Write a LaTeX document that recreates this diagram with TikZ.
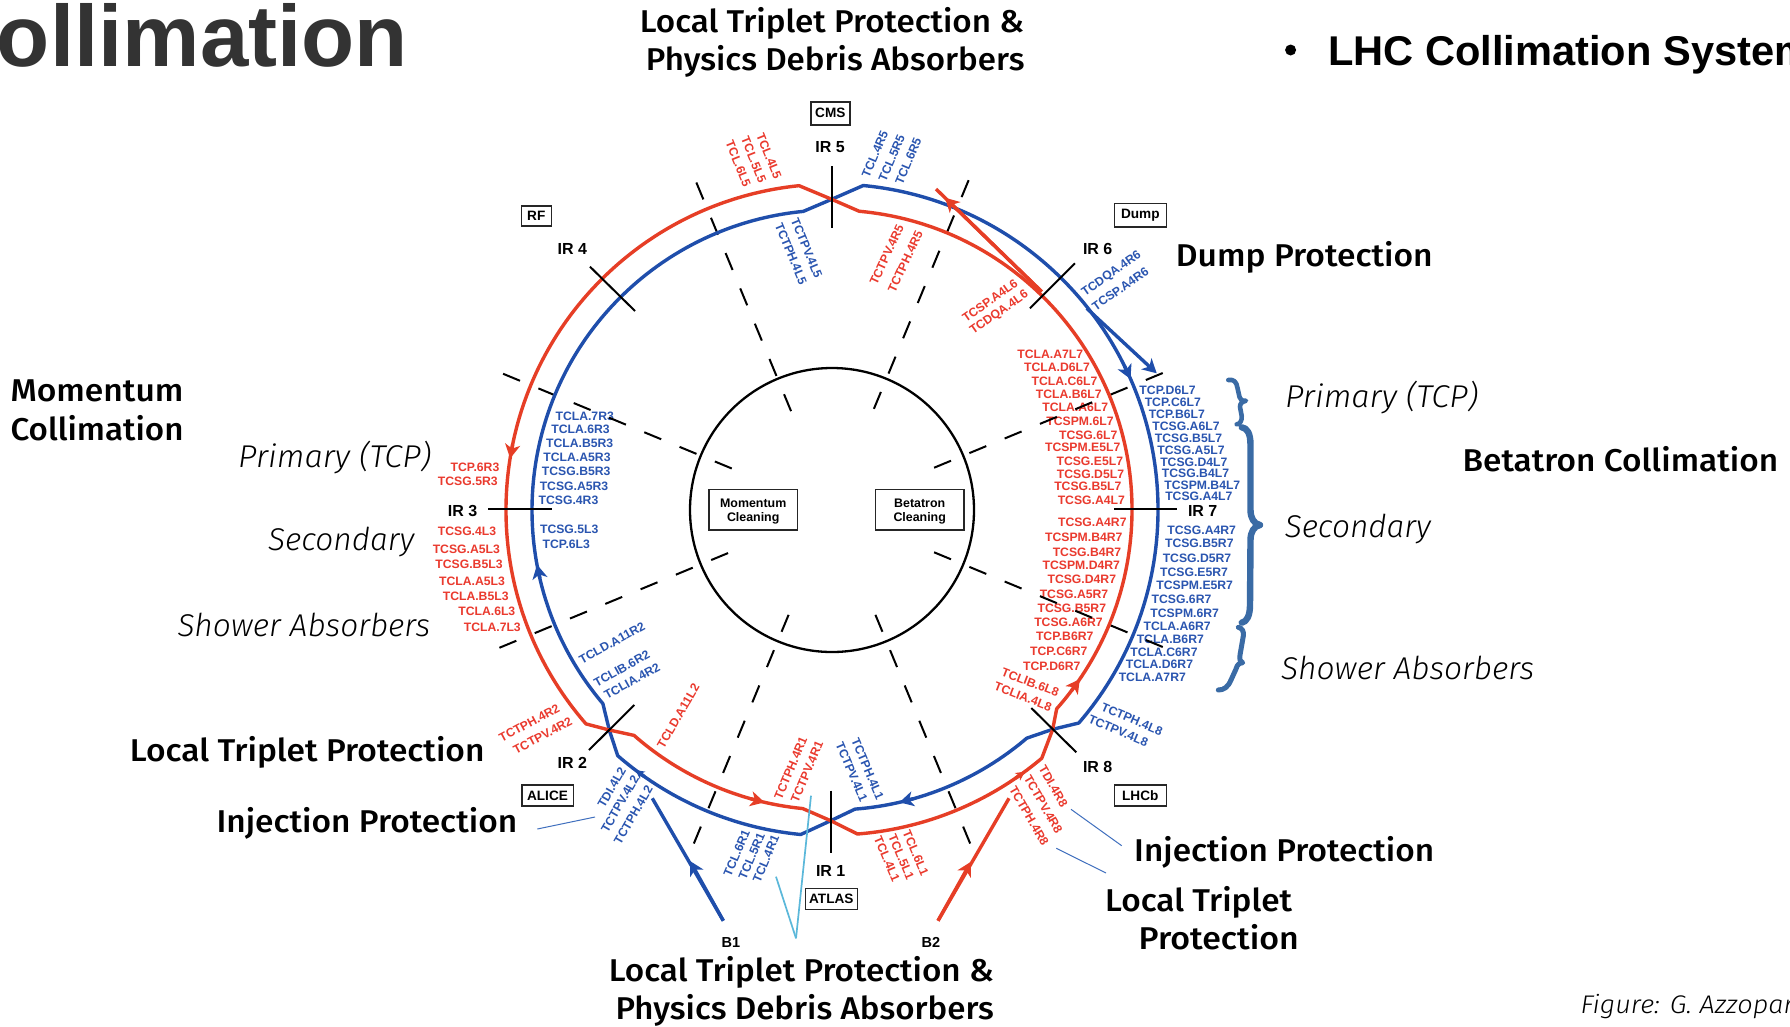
\documentclass[tikz,border=0pt]{standalone}
\usepackage{fontspec}
\usepackage{graphicx}
\usetikzlibrary{arrows.meta}
\setmainfont{Liberation Sans}
\newfontfamily\ubu{Fira Sans Medium}
\newfontfamily\ubuli{Fira Sans Light Italic}
\definecolor{beamred}{HTML}{E63E26}
\definecolor{beamblue}{HTML}{1F4EAB}
\definecolor{labred}{HTML}{EA3A2E}
\definecolor{labblue}{HTML}{2A55B0}
\definecolor{bracec}{HTML}{3A6BA5}
\definecolor{leadc}{HTML}{3F6FBE}
\definecolor{skyc}{HTML}{5BB8DA}
\definecolor{titlec}{HTML}{333333}
\tikzset{
  redlab/.style={inner sep=0pt,text=labred,font=\fontsize{12.2}{14}\selectfont\bfseries},
  bluelab/.style={inner sep=0pt,text=labblue,font=\fontsize{12.2}{14}\selectfont\bfseries},
  irlab/.style={inner sep=0pt,font=\fontsize{16}{18}\selectfont\bfseries},
  boxnode/.style={draw=black!85,line width=1.6pt,inner sep=0pt,align=center,font=\fontsize{13.6}{14.5}\selectfont\bfseries},
  cleanbox/.style={boxnode,minimum width=88.3pt,minimum height=40.7pt,font=\fontsize{12.4}{14.5}\selectfont\bfseries},
  annot/.style={inner sep=0pt,anchor=base west},
  redbeam/.style={draw=beamred,line width=3.4pt,line join=round},
  bluebeam/.style={draw=beamblue,line width=3.4pt,line join=round},
  rtip/.style={-{Stealth[length=14pt,width=15pt,inset=4pt]}},
  rtipsmall/.style={-{Stealth[length=9pt,width=9pt,inset=2.5pt]}},
  tickline/.style={draw=black,line width=2pt},
  radial/.style={draw=black,line width=2pt,dash pattern=on 18.3pt off 19.9pt},
  bracepath/.style={draw=bracec,line cap=round,line join=round},
  leader/.style={draw=leadc,line width=1pt},
  skyline/.style={draw=skyc,line width=1.7pt},
}
\newcommand\rlab[5][0]{\node[redlab,rotate=#1] (r#2) at (#3,-#4) {#5};}
\newcommand\blab[5][0]{\node[bluelab,rotate=#1] (b#2) at (#3,-#4) {#5};}
\newcommand\med[5]{\node[annot,xshift=-2pt,yshift=-1pt] (#1) at (#2,-#3) {\resizebox{\dimexpr #4pt+3pt\relax}{\height}{\ubu\fontsize{31.5}{36}\selectfont #5}};}
\newcommand\ita[5]{\node[annot,xshift=-2pt,yshift=-1pt] (#1) at (#2,-#3) {\resizebox{\dimexpr #4pt+2pt\relax}{\height}{\ubuli\fontsize{31.5}{36}\selectfont #5}};}
\begin{document}
\begin{tikzpicture}[x=1pt,y=1pt]
\useasboundingbox (0,0) rectangle (1790,-1026);
\fill[white] (0,0) rectangle (1790,-1026);
\clip (0,0) rectangle (1790,-1026);

% slide texts
\node[inner sep=0pt,anchor=base east,text=titlec,font=\fontsize{87}{90}\selectfont\bfseries] (title) at (408,-66.7) {ollimation};
\node[inner sep=0pt,anchor=base west,font=\fontsize{41.6}{44}\selectfont\bfseries] (bullet) at (1328,-65) {LHC Collimation System};
\node[circle,fill=black,inner sep=0pt,minimum size=11pt] (bulletdot) at (1290.6,-50) {};
\med{topa}{641.7}{31}{381.3}{Local Triplet Protection \&}
\med{topb}{647.7}{69.3}{375.6}{Physics Debris Absorbers}
\med{bota}{610.7}{980}{382}{Local Triplet Protection \&}
\med{botb}{617.3}{1018.3}{375.4}{Physics Debris Absorbers}
\med{dump}{1177.7}{265.7}{253.8}{Dump Protection}
\med{beta}{1464.5}{470.7}{312.4}{Betatron Collimation}
\med{mom}{12.3}{400}{170}{Momentum}
\med{coll}{12.3}{439}{170}{Collimation}
\med{ltl}{131.7}{760}{351.6}{Local Triplet Protection}
\med{injl}{218.3}{831.7}{297.7}{Injection Protection}
\med{injr}{1136}{860.7}{296.9}{Injection Protection}
\med{ltra}{1107}{910.7}{183.9}{Local Triplet}
\med{ltrb}{1140.4}{948.3}{157.2}{Protection}
\ita{pril}{240}{466.7}{191}{Primary (TCP)}
\ita{secl}{270}{549.3}{144}{Secondary}
\ita{shol}{179.3}{635.7}{250.7}{Shower Absorbers}
\ita{prir}{1286.8}{406.7}{191.2}{Primary (TCP)}
\ita{secr}{1286.6}{536}{144}{Secondary}
\ita{shor}{1283}{678}{251}{Shower Absorbers}
\node[annot] (fig) at (1580.4,-1013) {\resizebox{213pt}{\height}{\ubuli\fontsize{25.5}{28}\selectfont Figure: G. Azzopar}};

% collimator labels
\rlab[-68]{TCL4L5}{769}{156.3}{TCL.4L5}
\rlab[-68]{TCL5L5}{753.7}{159.7}{TCL.5L5}
\rlab[-68]{TCL6L5}{738.3}{163.7}{TCL.6L5}
\blab[67]{TCL4R5}{875}{154.3}{TCL.4R5}
\blab[67]{TCL5R5}{891.7}{158}{TCL.5R5}
\blab[67]{TCL6R5}{908.3}{161.3}{TCL.6R5}
\blab[-67.5]{TCTPV4L5}{806.7}{248.3}{TCTPV.4L5}
\blab[-67.5]{TCTPH4L5}{791}{253.7}{TCTPH.4L5}
\rlab[65]{TCTPV4R5}{886.7}{254.7}{TCTPV.4R5}
\rlab[65]{TCTPH4R5}{905.3}{261.7}{TCTPH.4R5}
\rlab[35]{TCSPA4L6}{990}{300.7}{TCSP.A4L6}
\rlab[35]{TCDQA4L6}{999.3}{313}{TCDQA.4L6}
\blab[35]{TCDQA4R6}{1111.7}{274}{TCDQA.4R6}
\blab[35]{TCSPA4R6}{1120.3}{289}{TCSP.A4R6}
\blab{TCLA7R3}{584.7}{416}{TCLA.7R3}
\blab{TCLA6R3}{580.5}{429.3}{TCLA.6R3}
\blab{TCLAB5R3}{579.7}{443.3}{TCLA.B5R3}
\blab{TCLAA5R3}{577}{457.3}{TCLA.A5R3}
\blab{TCSGB5R3}{576.2}{471.7}{TCSG.B5R3}
\blab{TCSGA5R3}{574}{486.7}{TCSG.A5R3}
\blab{TCSG4R3}{568.5}{500.7}{TCSG.4R3}
\blab{TCSG5L3}{569.2}{529.7}{TCSG.5L3}
\blab{TCP6L3}{566.3}{544.7}{TCP.6L3}
\rlab{TCP6R3}{475}{467.3}{TCP.6R3}
\rlab{TCSG5R3}{467.8}{481.7}{TCSG.5R3}
\rlab{TCSG4L3}{467}{531.3}{TCSG.4L3}
\rlab{TCSGA5L3}{466.3}{549}{TCSG.A5L3}
\rlab{TCSGB5L3}{469}{564.7}{TCSG.B5L3}
\rlab{TCLAA5L3}{472}{581}{TCLA.A5L3}
\rlab{TCLAB5L3}{475.7}{596.3}{TCLA.B5L3}
\rlab{TCLA6L3}{486.8}{611.7}{TCLA.6L3}
\rlab{TCLA7L3}{492.3}{627}{TCLA.7L3}
\rlab{TCLAA7L7}{1050.3}{354.3}{TCLA.A7L7}
\rlab{TCLAD6L7}{1057}{367.3}{TCLA.D6L7}
\rlab{TCLAC6L7}{1064.5}{381}{TCLA.C6L7}
\rlab{TCLAB6L7}{1068.7}{394}{TCLA.B6L7}
\rlab{TCLAA6L7}{1075.2}{407.7}{TCLA.A6L7}
\rlab{TCSPM6L7}{1080}{421}{TCSPM.6L7}
\rlab{TCSG6L7}{1088.2}{435}{TCSG.6L7}
\rlab{TCSPME5L7}{1082.7}{447.7}{TCSPM.E5L7}
\rlab{TCSGE5L7}{1089.8}{461}{TCSG.E5L7}
\rlab{TCSGD5L7}{1090.5}{474.3}{TCSG.D5L7}
\rlab{TCSGB5L7}{1087.8}{486.7}{TCSG.B5L7}
\rlab{TCSGA4L7}{1091.3}{500.3}{TCSG.A4L7}
\rlab{TCSGA4R7}{1092.3}{522.7}{TCSG.A4R7}
\rlab{TCSPMB4R7}{1083.8}{537.3}{TCSPM.B4R7}
\rlab{TCSGB4R7}{1087}{552}{TCSG.B4R7}
\rlab{TCSPMD4R7}{1081.3}{565}{TCSPM.D4R7}
\rlab{TCSGD4R7}{1081.8}{579.3}{TCSG.D4R7}
\rlab{TCSGA5R7}{1074}{594}{TCSG.A5R7}
\rlab{TCSGB5R7}{1071.8}{608.3}{TCSG.B5R7}
\rlab{TCSGA6R7}{1068.5}{622.7}{TCSG.A6R7}
\rlab{TCPB6R7}{1064.7}{636.7}{TCP.B6R7}
\rlab{TCPC6R7}{1058.8}{651.7}{TCP.C6R7}
\rlab{TCPD6R7}{1051.8}{666.3}{TCP.D6R7}
\blab{TCPD6L7}{1167.5}{390}{TCP.D6L7}
\blab{TCPC6L7}{1172.8}{402}{TCP.C6L7}
\blab{TCPB6L7}{1176.8}{414.7}{TCP.B6L7}
\blab{TCSGA6L7}{1186}{426.7}{TCSG.A6L7}
\blab{TCSGB5L7}{1188.5}{438.3}{TCSG.B5L7}
\blab{TCSGA5L7}{1191}{450.3}{TCSG.A5L7}
\blab{TCSGD4L7}{1193.8}{462}{TCSG.D4L7}
\blab{TCSGB4L7}{1195.5}{473.3}{TCSG.B4L7}
\blab{TCSPMB4L7}{1202.3}{485.3}{TCSPM.B4L7}
\blab{TCSGA4L7}{1198.8}{496.7}{TCSG.A4L7}
\blab{TCSGA4R7}{1201.7}{530.3}{TCSG.A4R7}
\blab{TCSGB5R7}{1199.3}{543.7}{TCSG.B5R7}
\blab{TCSGD5R7}{1197}{558.3}{TCSG.D5R7}
\blab{TCSGE5R7}{1194}{572}{TCSG.E5R7}
\blab{TCSPME5R7}{1194.7}{585.3}{TCSPM.E5R7}
\blab{TCSG6R7}{1181.5}{599.3}{TCSG.6R7}
\blab{TCSPM6R7}{1184.7}{613}{TCSPM.6R7}
\blab{TCLAA6R7}{1177.2}{626.7}{TCLA.A6R7}
\blab{TCLAB6R7}{1170.3}{639.3}{TCLA.B6R7}
\blab{TCLAC6R7}{1164}{652}{TCLA.C6R7}
\blab{TCLAD6R7}{1159.5}{664}{TCLA.D6R7}
\blab{TCLAA7R7}{1152.3}{677.7}{TCLA.A7R7}
\rlab[-21]{TCLIB6L8}{1030.3}{682.3}{TCLIB.6L8}
\rlab[-21]{TCLIA4L8}{1023}{696.7}{TCLIA.4L8}
\blab[-23]{TCTPH4L8}{1132}{719.3}{TCTPH.4L8}
\blab[-23]{TCTPV4L8}{1118.3}{730.7}{TCTPV.4L8}
\rlab[-60]{TDI4R8}{1053.3}{786.3}{TDI.4R8}
\rlab[-60]{TCTPV4R8}{1043.3}{804.3}{TCTPV.4R8}
\rlab[-60]{TCTPH4R8}{1029}{815.7}{TCTPH.4R8}
\blab[29]{TCLDA11R2}{612}{643}{TCLD.A11R2}
\blab[29]{TCLIB6R2}{621.7}{668.7}{TCLIB.6R2}
\blab[29]{TCLIA4R2}{632}{681}{TCLIA.4R2}
\rlab[60]{TCLDA11L2}{678.3}{716}{TCLD.A11L2}
\rlab[28]{TCTPH4R2}{529.3}{723}{TCTPH.4R2}
\rlab[28]{TCTPV4R2}{542.7}{735.7}{TCTPV.4R2}
\blab[60]{TDI4L2}{611.7}{787.3}{TDI.4L2}
\blab[60]{TCTPV4L2}{620}{804}{TCTPV.4L2}
\blab[60]{TCTPH4L2}{633.3}{815}{TCTPH.4L2}
\rlab[67]{TCTPH4R1}{790.7}{768.3}{TCTPH.4R1}
\rlab[67]{TCTPV4R1}{807}{771.7}{TCTPV.4R1}
\blab[-67]{TCTPH4L1}{867.7}{769}{TCTPH.4L1}
\blab[-67]{TCTPV4L1}{851.7}{771.7}{TCTPV.4L1}
\blab[67]{TCL6R1}{736.7}{853.3}{TCL.6R1}
\blab[67]{TCL5R1}{751.7}{856}{TCL.5R1}
\blab[67]{TCL4R1}{766}{858.7}{TCL.4R1}
\rlab[-67]{TCL6L1}{915.7}{853}{TCL.6L1}
\rlab[-67]{TCL5L1}{901.3}{856.7}{TCL.5L1}
\rlab[-67]{TCL4L1}{887}{858.7}{TCL.4L1}

% IR labels and boxes
\node[irlab] (ir1) at (830.7,-870.7) {IR 1};
\node[irlab] (ir2) at (572.3,-763.3) {IR 2};
\node[irlab] (ir3) at (462.5,-510.7) {IR 3};
\node[irlab] (ir4) at (572.3,-248.7) {IR 4};
\node[irlab] (ir5) at (830,-147.3) {IR 5};
\node[irlab] (ir6) at (1097.7,-248.7) {IR 6};
\node[irlab] (ir7) at (1202.7,-511) {IR 7};
\node[irlab] (ir8) at (1097.7,-767.3) {IR 8};
\node[irlab,font=\fontsize{14.5}{16}\selectfont\bfseries] (b1) at (731,-942) {B1};
\node[irlab,font=\fontsize{14.5}{16}\selectfont\bfseries] (b2) at (931,-942) {B2};
\node[boxnode,minimum width=39pt,minimum height=23pt] (cms) at (830.3,-113.3) {CMS};
\node[boxnode,minimum width=30pt,minimum height=20pt] (rf) at (536.3,-216) {RF};
\node[boxnode,minimum width=52pt,minimum height=23.4pt] (dumpbox) at (1140.3,-215) {Dump};
\node[boxnode,minimum width=51.6pt,minimum height=21pt] (alice) at (547.5,-795.5) {ALICE};
\node[boxnode,minimum width=52pt,minimum height=21pt] (atlas) at (831.3,-898.8) {ATLAS};
\node[boxnode,minimum width=52pt,minimum height=21pt] (lhcb) at (1140.3,-795.5) {LHCb};
\node[cleanbox] (mombox) at (753.2,-509.7) {\rule{0pt}{12pt}Momentum\\Cleaning};
\node[cleanbox] (betbox) at (919.7,-509.7) {\rule{0pt}{12pt}Betatron\\Cleaning};

% named points
\coordinate (cen) at (832,-510);
\coordinate (cIR1) at (830.7,-820.7);
\coordinate (cIR2) at (609.3,-730);
\coordinate (cIR5) at (831.7,-199.3);
\coordinate (cIR8) at (1052.7,-729.3);

% radial dashed lines
\begin{scope}[shift={(cen)}]
\foreach \a/\r/\n in {112.5/354.5/a,67.5/357/b,157.5/356/c,22.5/358/d,202.5/360/e,-22.5/358/f,247.5/361/g,292.5/361/h}{
  \pgfmathsetmacro{\ri}{\r-247.5}
  \coordinate (ro\n) at (\a:\r);
  \coordinate (ri\n) at (\a:\ri);
  \draw[radial] (ro\n) -- (ri\n);
}
\end{scope}
\node[circle,draw=black,line width=2.3pt,minimum size=284pt,inner sep=0pt] (ringc) at (cen) {};

% beams
\begin{scope}[shift={(cen)}]
\draw[bluebeam] (84.5:326) arc[start angle=84.5,end angle=-40.8,radius=326pt] -- (cIR8) -- (-49.5:300) arc[start angle=-49.5,end angle=-85.6,radius=300pt] -- (cIR1) -- (264.5:326) arc[start angle=264.5,end angle=228.9,radius=326pt] -- (cIR2) -- (220.2:300) arc[start angle=220.2,end angle=95.5,radius=300pt] -- (cIR5) -- cycle;
\draw[redbeam] (84.8:300) arc[start angle=84.8,end angle=-41.5,radius=300pt] -- (cIR8) -- (-49.8:325) arc[start angle=-49.8,end angle=-85.5,radius=325pt] -- (cIR1) -- (264.4:300) arc[start angle=264.4,end angle=228.7,radius=300pt] -- (cIR2) -- (221:326) arc[start angle=221,end angle=95.8,radius=326pt] -- (cIR5) -- cycle;
% ring arrowheads
\draw[redbeam,rtip] (168.4:326) -- (170.9:326);
\draw[redbeam,rtip] (254.3:300) -- (257:300);
\draw[redbeam,rtip] (-37:300) -- (-34.3:300);
\draw[redbeam,rtipsmall] (-55.6:325) -- (-53.6:325);
\draw[bluebeam,rtip] (193.2:300) -- (190.5:300);
\draw[bluebeam,rtip] (-74.3:300) -- (-77:300);
\draw[bluebeam,rtip] (26.2:326) -- (23.7:326);
\draw[bluebeam,rtipsmall] (234.9:326) -- (232.9:326);
\end{scope}

% dump and injection lines
\coordinate (dbs) at (1086.7,-308.3);
\coordinate (dbe) at (1156.7,-373.3);
\coordinate (drs) at (1041.7,-291.7);
\coordinate (dre) at (936,-189);
\coordinate (drh) at (945,-197.7);
\coordinate (ib1s) at (723.3,-920.7);
\coordinate (ib1e) at (652.3,-798.3);
\coordinate (ib1h) at (690,-861);
\coordinate (ib2s) at (938,-920.7);
\coordinate (ib2e) at (1009,-798.3);
\coordinate (ib2h) at (971,-861.7);
\draw[bluebeam,rtip] (dbs) -- (dbe);
\draw[redbeam] (drs) -- (dre);
\draw[redbeam,rtip] (drs) -- (drh);
\draw[bluebeam] (ib1s) -- (ib1e);
\draw[bluebeam,rtip] (ib1s) -- (ib1h);
\draw[redbeam] (ib2s) -- (ib2e);
\draw[redbeam,rtip] (ib2s) -- (ib2h);

% IR ticks
\foreach \n/\ax/\ay/\bx/\by in {1/830.7/790.7/830.7/853.3,2/634.3/705/589/750,3/488.3/509.3/551.7/509.3,4/590/266.7/635/311,5/831.7/166/831.7/228.3,6/1030/308.3/1075/263.3,7/1114.3/509.3/1176.7/509.3,8/1031.3/708/1076.3/752.3}{
  \coordinate (tk\n a) at (\ax,-\ay);
  \coordinate (tk\n b) at (\bx,-\by);
  \draw[tickline] (tk\n a) -- (tk\n b);
}

% leaders
\coordinate (sky0) at (796,-938.3);
\coordinate (sky1) at (811,-795.7);
\coordinate (sky2) at (776,-876.7);
\draw[skyline] (sky0) -- (sky1);
\draw[skyline] (sky0) -- (sky2);
\coordinate (la) at (537.3,-829);
\coordinate (lb) at (595,-817);
\coordinate (lc) at (1071,-809.3);
\coordinate (ld) at (1121.7,-845.7);
\coordinate (le) at (1056.3,-848.3);
\coordinate (lf) at (1106,-873);
\draw[leader] (la) -- (lb);
\draw[leader] (lc) -- (ld);
\draw[leader] (le) -- (lf);

% braces
\draw[bracepath,line width=4.6pt] (1228.3,-380) .. controls (1234,-379) and (1236.5,-382) .. (1237.5,-388) -- (1239.5,-397) .. controls (1240,-400) and (1242,-401) .. (1246,-400.7) .. controls (1242,-402) and (1240,-403) .. (1240,-407) -- (1241.7,-416) .. controls (1242,-421) and (1240,-424) .. (1236.7,-424.3);
\draw[bracepath,line width=6.4pt] (1241.7,-427.3) .. controls (1247,-428) and (1250.5,-433) .. (1250.5,-445) -- (1250.5,-510) .. controls (1250.5,-518) and (1254,-524) .. (1260,-525) .. controls (1254,-526) and (1250.5,-532) .. (1250.5,-540) -- (1250,-605) .. controls (1250,-615) and (1247,-622) .. (1241.7,-622.7);
\draw[bracepath,line width=5pt] (1238.3,-627.3) .. controls (1242,-628) and (1244,-631) .. (1243.3,-636) -- (1240,-655) .. controls (1239.5,-660) and (1240,-662) .. (1242.7,-662.7) .. controls (1239,-663) and (1237,-665) .. (1236,-669) -- (1231,-680) .. controls (1228,-687) and (1224,-690) .. (1218.3,-690);
\end{tikzpicture}
\end{document}
